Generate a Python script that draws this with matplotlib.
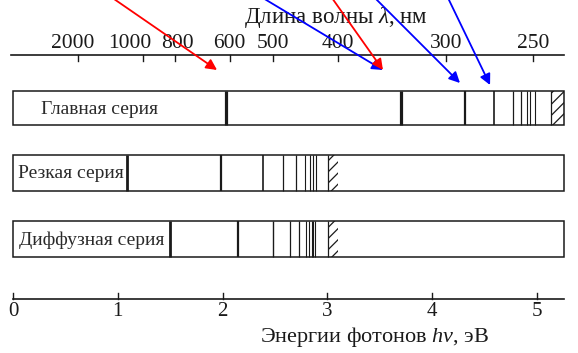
import matplotlib
matplotlib.use("Agg")
import matplotlib.pyplot as plt
from matplotlib.patches import Rectangle

plt.rcParams['font.family'] = ['Liberation Serif', 'DejaVu Serif']
plt.rcParams['mathtext.fontset'] = 'custom'
plt.rcParams['mathtext.rm'] = 'Liberation Serif'
plt.rcParams['mathtext.it'] = 'Liberation Serif:italic'
plt.rcParams['hatch.linewidth'] = 0.9

# ---- data (photon energies in eV) ----
series_names = ["Главная серия", "Резкая серия", "Диффузная серия"]
principal_lines = [2.03, 3.70, 4.31, 4.59, 4.77, 4.85, 4.90, 4.93, 4.98]
principal_widths = [2.3, 2.3, 1.6, 1.2, 0.9, 0.9, 0.8, 0.8, 0.8]
principal_limit = 5.13
sharp_lines = [1.09, 1.98, 2.39, 2.58, 2.70, 2.79, 2.83, 2.86, 2.89]
sharp_widths = [2.0, 1.6, 1.2, 0.9, 0.9, 0.8, 0.8, 0.8, 0.8]
sharp_limit = 3.01
diffuse_lines = [1.50, 2.15, 2.48, 2.64, 2.73, 2.80, 2.82, 2.85, 2.86, 2.88]
diffuse_widths = [2.0, 1.6, 1.0, 0.9, 0.9, 0.8, 0.8, 0.8, 0.8, 0.8]
diffuse_limit = 3.01
bar_end = 5.26

wavelength_ticks = [2000, 1000, 800, 600, 500, 400, 300, 250]   # nm
energy_ticks = [0, 1, 2, 3, 4, 5]                                 # eV
HC = 1239.84  # eV*nm

# arrows: (start energy, tip energy, tip row, colour)
arrow_start_E = [0.95, 2.385, 3.044, 3.454, 4.151]
arrow_tip_E = [1.947, 3.53, 3.53, 4.265, 4.552]
arrow_tip_row = [70, 70, 70, 83, 85]
arrow_colors = ["#ff0000", "#0000ff", "#ff0000", "#0000ff", "#0000ff"]

# ---- layout ----
W, H = 578, 353
px0, ppe = 13, 104.8
fig = plt.figure(figsize=(W / 100, H / 100), dpi=100)
ax = fig.add_axes([0, 0, 1, 1])
ax.set_xlim(-px0 / ppe, (W - px0) / ppe)
ax.set_ylim(H, 0)
ax.axis('off')

ink = "#1a1a1a"
rows = [(91, 125), (155, 191), (221, 257)]
label_x = [0.83, 0.55, 0.75]
all_lines = [principal_lines, sharp_lines, diffuse_lines]
all_widths = [principal_widths, sharp_widths, diffuse_widths]
limits = [principal_limit, sharp_limit, diffuse_limit]
hatch_end = [bar_end, 3.10, 3.10]

for i, (top, bot) in enumerate(rows):
    ax.add_patch(Rectangle((0, top), bar_end, bot - top, facecolor='white',
                           edgecolor=ink, lw=1.1, zorder=2))
    ax.vlines(all_lines[i], top, bot, colors=ink, linewidths=all_widths[i], zorder=3)
    ax.vlines([limits[i]], top, bot, colors=ink, linewidths=0.9, zorder=3)
    ax.add_patch(Rectangle((limits[i], top), hatch_end[i] - limits[i], bot - top,
                           fill=False, hatch='///', edgecolor=ink, lw=0, zorder=3))
    ax.text(label_x[i], (top + bot) / 2 + 1, series_names[i], ha='center', va='center',
            fontsize=14, color="#2a2a2a", zorder=4)

# top wavelength axis
top_y = 55
label_shift_px = {2000: -5, 1000: -13, 800: 2}
ax.plot([-0.02, 5.26], [top_y, top_y], color=ink, lw=1.2)
for lam in wavelength_ticks:
    e = HC / lam
    ax.plot([e, e], [top_y, top_y + 6], color=ink, lw=1.0)
    ax.text(e + label_shift_px.get(lam, 0) / ppe, 43, str(lam),
            ha='center', va='center', fontsize=15.5, color=ink)
ax.text(3.08, 17, r"Длина волны $\lambda$, нм", ha='center', va='center',
        fontsize=16.5, color=ink)

# bottom energy axis
bot_y = 299
ax.plot([0, 5.26], [bot_y, bot_y], color=ink, lw=1.2)
for e in energy_ticks:
    ax.plot([e, e], [bot_y, bot_y - 6], color=ink, lw=1.0)
    ax.text(e, 312, str(e), ha='center', va='center', fontsize=15, color=ink)
ax.text(3.45, 337, r"Энергии фотонов $h\nu$, эВ", ha='center', va='center',
        fontsize=16, color=ink)

# arrows
for s, t, r, c in zip(arrow_start_E, arrow_tip_E, arrow_tip_row, arrow_colors):
    ax.annotate("", xy=(t, r), xytext=(s, -2),
                arrowprops=dict(arrowstyle='-|>', color=c, lw=1.3,
                                mutation_scale=16, shrinkA=0, shrinkB=0),
                zorder=5)

fig.savefig("out.png", dpi=100)
